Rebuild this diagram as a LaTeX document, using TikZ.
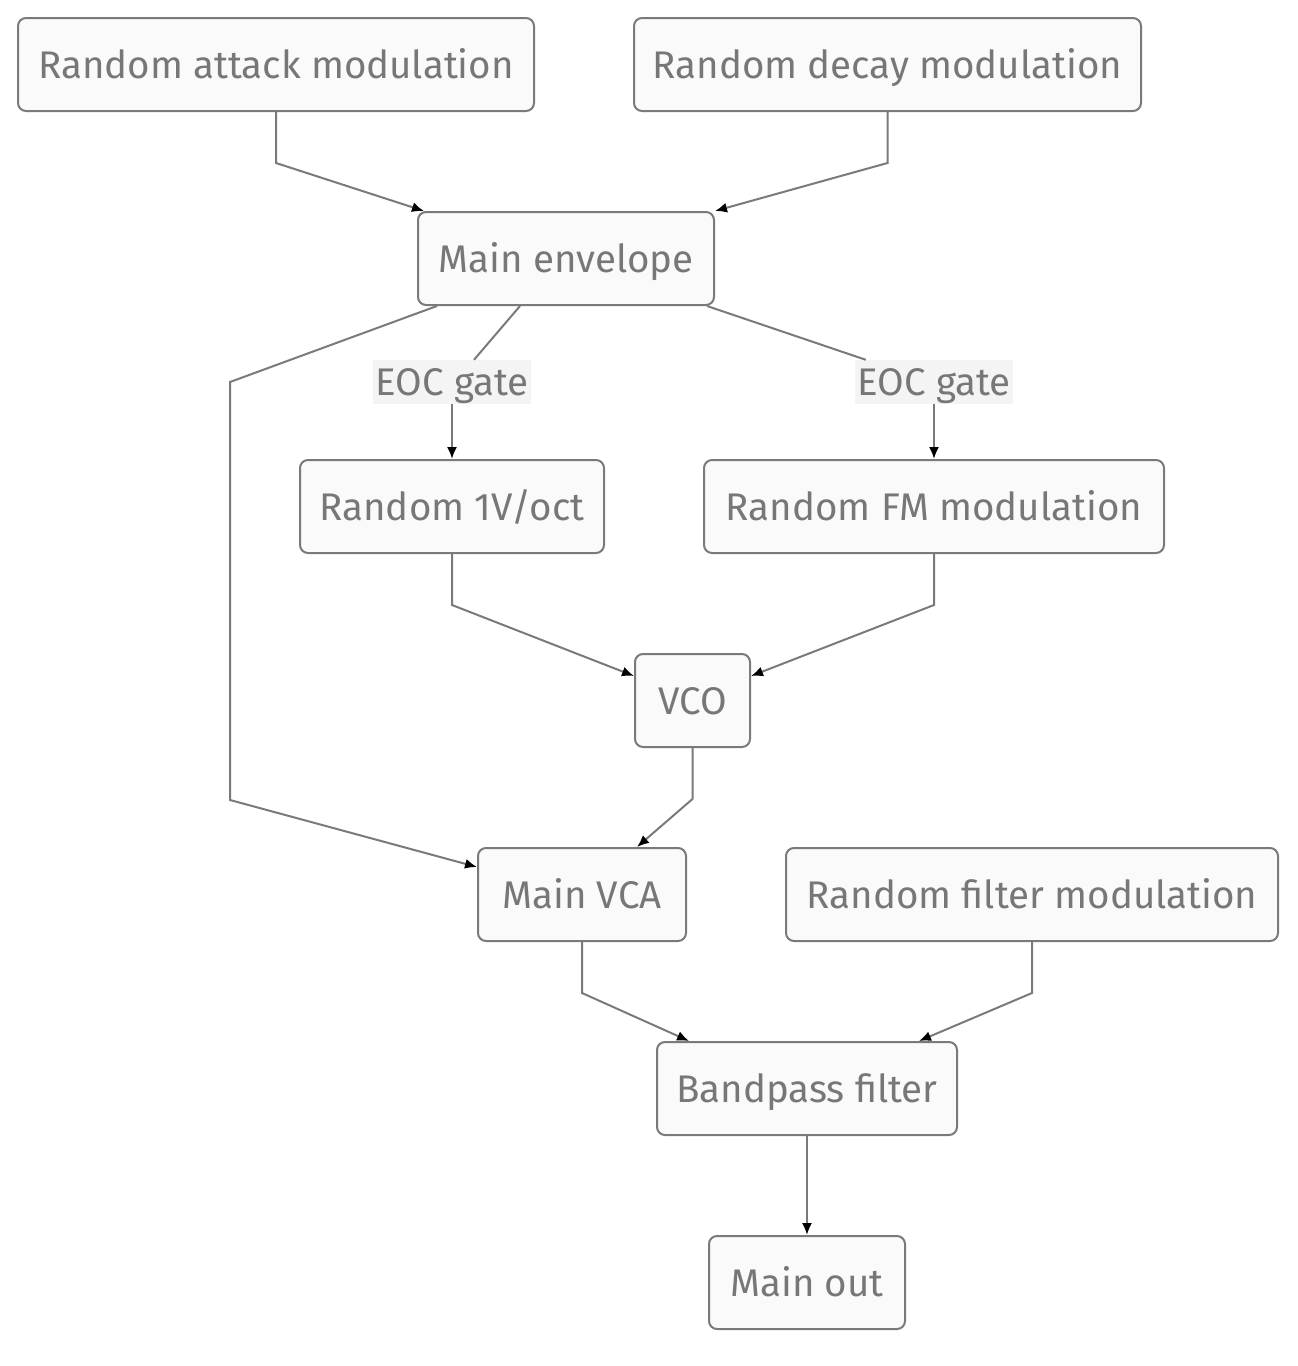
\documentclass[tikz,border=0pt]{standalone}
\usepackage{fontspec}
\setmainfont{Fira Sans}
\usetikzlibrary{arrows.meta,calc}
\definecolor{txt}{HTML}{777777}
\definecolor{edge}{HTML}{7A7A7A}
\definecolor{boxfill}{HTML}{FAFAFA}
\definecolor{labfill}{HTML}{F4F4F4}
\begin{document}
\begin{tikzpicture}[x=1pt,y=-1pt,
  box/.style={draw=edge,fill=boxfill,line width=2pt,rounded corners=8pt,
    minimum height=93pt,inner sep=0pt,text height=27pt,text depth=0pt,
    text=txt,font=\fontsize{38.5}{44}\selectfont},
  lab/.style={fill=labfill,inner sep=0pt,minimum height=44pt,text height=27pt,text depth=0pt,
    text=txt,font=\fontsize{38.5}{44}\selectfont},
  ln/.style={draw=edge,line width=2pt},
  arr/.style={ln,-{Latex[length=12pt,width=10pt,color=black]}}]
\useasboundingbox (0,0) rectangle (1298,1366);
\node[box,minimum width=516pt] (attack) at (276,64.5) {Random attack modulation};
\node[box,minimum width=507pt] (decay) at (887.5,64.5) {Random decay modulation};
\node[box,minimum width=296pt] (env) at (566,258.5) {Main envelope};
\node[box,minimum width=304pt] (r1v) at (452,506.5) {Random 1V/oct};
\node[box,minimum width=460pt] (fm) at (934,506.5) {Random FM modulation};
\node[box,minimum width=115pt] (vco) at (692.5,700.5) {VCO};
\node[box,minimum width=208pt] (vca) at (582,894.5) {Main VCA};
\node[box,minimum width=492pt] (filt) at (1032,894.5) {Random filter modulation};
\node[box,minimum width=300pt] (bp) at (807,1088.5) {Bandpass filter};
\node[box,minimum width=196pt] (out) at (807,1282.5) {Main out};
\node[lab,minimum width=158pt] (l1) at (452,382) {EOC gate};
\node[lab,minimum width=158pt] (l2) at (934,382) {EOC gate};
% edges
\draw[arr] (attack.south) -- ++(0,51) -- ($(env.north west)+(7,0)$);
\draw[arr] (decay.south) -- ++(0,51) -- ($(env.north east)+(0,0)$);
\draw[ln] ($(env.south west)+(103,0)$) -- ($(l1.north)+(22,0)$);
\draw[arr] (l1.south) -- (r1v.north);
\draw[ln] ($(env.south east)+(-8,0)$) -- ($(l2.north west)+(11,0)$);
\draw[arr] (l2.south) -- (fm.north);
\draw[arr] ($(env.south west)+(20,0)$) -- (230,382) -- (230,800) -- ($(vca.north west)+(0,20)$);
\draw[arr] (r1v.south) -- ++(0,51) -- ($(vco.north west)+(0,23)$);
\draw[arr] (fm.south) -- ++(0,51) -- ($(vco.north east)+(0,23)$);
\draw[arr] (vco.south) -- ++(0,51) -- ($(vca.north)+(55,0)$);
\draw[arr] (vca.south) -- ++(0,51) -- ($(bp.north west)+(33,0)$);
\draw[arr] (filt.south) -- ++(0,51) -- ($(bp.north east)+(-39,0)$);
\draw[arr] (bp.south) -- (out.north);
\end{tikzpicture}
\end{document}
